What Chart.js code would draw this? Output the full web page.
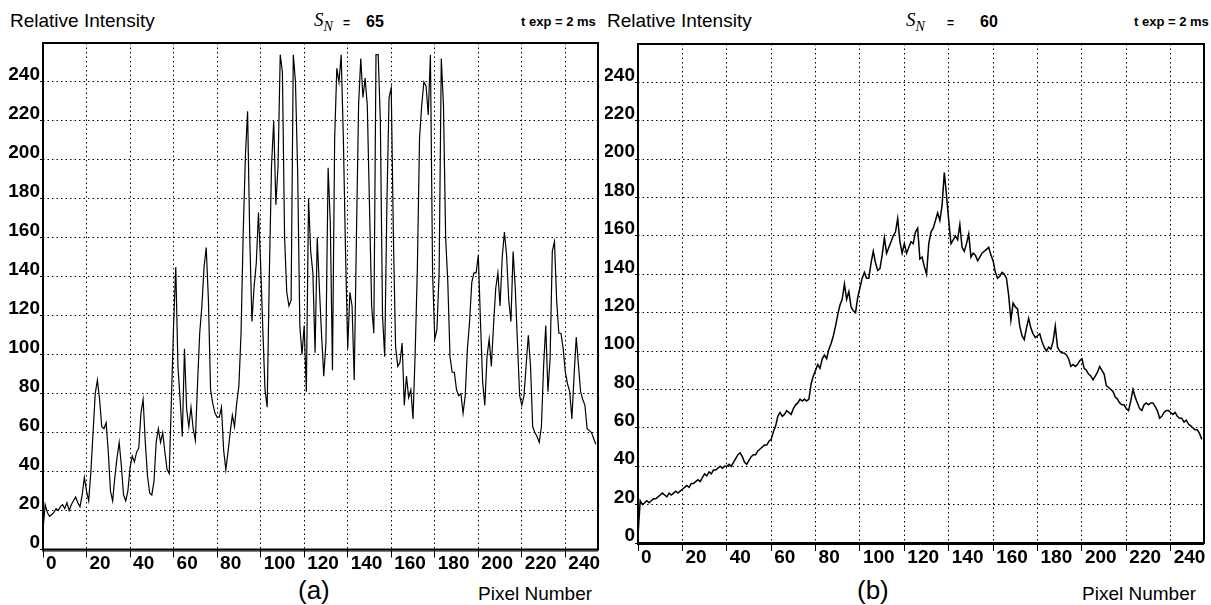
<!DOCTYPE html>
<html><head><meta charset="utf-8">
<script src="https://cdn.jsdelivr.net/npm/chart.js@4.4.1/dist/chart.umd.min.js"></script>
<style>
html,body{margin:0;padding:0;background:#fff;width:1211px;height:605px;overflow:hidden;position:relative;font-family:'Liberation Sans',Arial,sans-serif;color:#000;}
.box{position:absolute;}
.t{position:absolute;white-space:nowrap;line-height:1;}
.lbl{font-size:19px;}
.sn{font-family:'Liberation Serif','Times New Roman',serif;font-style:italic;font-size:19px;}
.sn sub{font-size:14px;vertical-align:-5px;}
.eq{font-weight:bold;font-size:12px;}
.num{font-weight:bold;font-size:16px;font-family:'Liberation Sans Narrow','Liberation Sans',sans-serif;}
.texp{font-weight:bold;font-size:13px;font-family:'Liberation Sans Narrow','Liberation Sans',sans-serif;}
.cap{font-size:26px;}
</style></head><body>

<div class="t lbl" style="left:10px;top:11px;">Relative Intensity</div>
<div class="t sn" style="left:314px;top:10px;">S<sub>N</sub></div>
<div class="t eq" style="left:343px;top:17px;">=</div>
<div class="t num" style="left:366px;top:14px;">65</div>
<div class="t texp" style="left:521px;top:15px;">t exp = 2 ms</div>

<div class="t lbl" style="left:607px;top:11px;">Relative Intensity</div>
<div class="t sn" style="left:906px;top:10px;">S<sub>N</sub></div>
<div class="t eq" style="left:947px;top:17px;">=</div>
<div class="t num" style="left:980px;top:14px;">60</div>
<div class="t texp" style="left:1134px;top:15px;">t exp = 2 ms</div>

<div class="t cap" style="left:298px;top:577px;">(a)</div>
<div class="t lbl" style="left:478px;top:584px;">Pixel Number</div>
<div class="t cap" style="left:857px;top:577px;">(b)</div>
<div class="t lbl" style="left:1082px;top:584px;">Pixel Number</div>

<div class="box" style="left:0;top:0;width:605px;height:580px;"><canvas id="ca"></canvas></div>
<div class="box" style="left:605px;top:0;width:606px;height:580px;"><canvas id="cb"></canvas></div>

<script>
// ---- data ----
const xTicks = [0,20,40,60,80,100,120,140,160,180,200,220,240];
const yTicks = [0,20,40,60,80,100,120,140,160,180,200,220,240];
const titleA = {sn: '65', texp: 't exp = 2 ms'};
const titleB = {sn: '60', texp: 't exp = 2 ms'};

// Relative intensity per pixel number 0..254, panel (a)
const intensityA = [
10,23,19,17,18,19,21,20,22,23,21,24,20,23,25,27,24,22,28,37,
30,25,40,60,80,87,77,63,62,65,50,30,25,37,47,55,43,28,25,30,
42,48,45,50,52,70,77,55,38,29,28,35,55,62,55,60,50,41,39,77,
115,145,94,77,58,103,72,63,73,62,56,85,111,125,145,155,128,82,75,70,
68,68,73,51,41,50,60,69,63,75,84,111,163,202,225,160,117,135,147,173,
146,113,82,73,142,197,220,177,197,254,245,160,132,125,128,254,240,194,115,100,
115,81,180,153,142,101,160,134,110,89,106,196,168,92,211,247,240,254,211,153,
103,132,125,87,160,228,252,232,242,228,177,125,111,254,254,220,120,99,177,232,
237,160,104,94,96,106,74,89,78,82,67,101,144,211,228,240,238,223,254,142,
108,113,142,252,228,160,137,99,91,91,82,79,80,70,79,103,117,137,142,142,
151,117,86,74,99,108,94,115,134,142,125,150,163,151,128,117,153,134,106,79,
74,79,95,110,94,63,60,58,55,63,94,115,81,98,153,158,128,111,111,103,
91,85,81,67,89,109,95,81,77,74,62,61,60,57,54
];

// Relative intensity per pixel number 0..254, panel (b)
const intensityB = [
4,22,20,21,22,21,22,23,23,24,25,26,25,24,26,25,26,27,26,27,
28,29,30,29,31,31,32,33,32,34,36,35,37,36,38,38,39,40,39,40,
40,41,40,42,44,46,47,45,42,41,43,45,46,46,48,49,50,51,51,53,
54,58,61,66,68,66,67,69,68,67,70,72,73,75,74,75,74,75,83,87,
90,93,91,96,98,96,101,104,108,113,119,124,127,135,127,131,123,121,120,128,
133,138,141,138,138,146,152,146,142,143,150,159,151,154,157,160,162,169,157,151,
156,151,154,157,156,162,164,148,149,144,140,156,162,164,168,172,168,176,193,181,
168,156,158,160,158,166,154,152,156,161,149,151,150,147,149,151,152,153,154,150,
147,141,138,139,141,140,138,129,116,125,123,122,113,108,106,112,117,112,109,107,
108,109,105,102,100,102,101,105,113,102,100,99,99,98,96,92,93,92,93,95,
96,91,90,88,87,85,87,89,92,90,88,82,81,80,79,76,75,73,72,72,
70,69,74,80,76,73,70,69,72,73,72,73,73,71,69,65,66,68,69,69,
68,67,68,66,65,65,63,64,62,61,60,59,59,57,54
];

// ---- chart helpers ----
const tickFont = {family: "'Liberation Sans Narrow','Liberation Sans',Arial,sans-serif", size: 19, weight: 'bold'};

const framePlugin = {
  id: 'frame',
  afterDraw(chart) {
    const {ctx, chartArea: a} = chart;
    ctx.save();
    ctx.strokeStyle = '#000';
    ctx.lineWidth = 2;
    ctx.strokeRect(a.left, a.top, a.right - a.left, a.bottom - a.top);
    ctx.lineWidth = 1;
    ctx.beginPath();
    ctx.moveTo(a.left - 1, a.bottom + 1.5); ctx.lineTo(a.right, a.bottom + 1.5);
    ctx.stroke();
    ctx.restore();
  }
};

function makeChart(id, values, yAxisWidth, pad, lw) {
  const pts = values.map((v, i) => ({x: i, y: v}));
  return new Chart(document.getElementById(id), {
    type: 'line',
    data: {datasets: [{data: pts, borderColor: '#000', borderWidth: lw, pointRadius: 0, tension: 0, fill: false}]},
    options: {
      responsive: true, maintainAspectRatio: false, animation: false,
      parsing: false,
      plugins: {legend: {display: false}, tooltip: {enabled: false}},
      layout: {padding: pad},
      scales: {
        x: {
          type: 'linear', min: 0, max: 255,
          afterBuildTicks: s => { s.ticks = xTicks.map(v => ({value: v})); },
          afterFit: s => { s.height = 25; },
          grid: {color: '#000', lineWidth: 1, tickLength: 8, tickColor: '#000', tickBorderDash: [], drawOnChartArea: true},
          border: {display: false, dash: [1.5, 3]},
          ticks: {color: '#000', font: tickFont, align: 'start', labelOffset: 3, padding: -5, maxRotation: 0, autoSkip: false}
        },
        y: {
          type: 'linear', min: 0, max: 260,
          afterBuildTicks: s => { s.ticks = yTicks.map(v => ({value: v})); },
          afterFit: s => { s.width = yAxisWidth; },
          grid: {color: '#000', lineWidth: 1, tickLength: 3, tickColor: '#000', tickBorderDash: []},
          border: {display: false, dash: [1.5, 3]},
          ticks: {color: '#000', font: tickFont, padding: 0, labelOffset: -7, autoSkip: false}
        }
      }
    },
    plugins: [framePlugin]
  });
}

makeChart('ca', intensityA, 43, {left: 0, right: 7, top: 43, bottom: 5.5}, 1.2);
makeChart('cb', intensityB, 33, {left: 0, right: 7, top: 44, bottom: 12}, 1.5);
</script>
</body></html>
